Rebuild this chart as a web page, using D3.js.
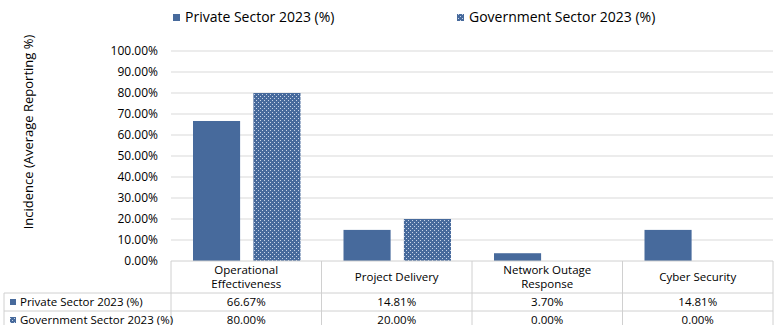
<!DOCTYPE html>
<html>
<head>
<meta charset="utf-8">
<script src="https://cdn.jsdelivr.net/npm/d3@7"></script>
<style>
  body { margin: 0; background: #fff; }
  svg { display: block; }
</style>
</head>
<body>
<div id="chart"></div>
<script>
// Chart data
const categories = [["Operational", "Effectiveness"], ["Project Delivery"], ["Network Outage", "Response"], ["Cyber Security"]];
const seriesNames = ["Private Sector 2023 (%)", "Government Sector 2023 (%)"];
const privateValues = [66.67, 14.81, 3.70, 14.81];
const governmentValues = [80.00, 20.00, 0.00, 0.00];
const yTicks = [0, 10, 20, 30, 40, 50, 60, 70, 80, 90, 100];

const width = 779;
const height = 325;
const blue = "#476a9c";
const gridColor = "#d9d9d9";
const font = "'Open Sans', 'Noto Sans', sans-serif";

const svg = d3.select("#chart")
  .append("svg")
  .attr("width", width)
  .attr("height", height)
  .style("font-family", font);

// Dotted pattern for government bars
const defs = svg.append("defs");
const pat = defs.append("pattern")
  .attr("id", "dots")
  .attr("width", 4)
  .attr("height", 4)
  .attr("patternUnits", "userSpaceOnUse");
pat.append("rect").attr("width", 4).attr("height", 4).attr("fill", blue);
pat.append("rect").attr("x", 0).attr("y", 0).attr("width", 1).attr("height", 1).attr("fill", "#c9d5e8");
pat.append("rect").attr("x", 2).attr("y", 2).attr("width", 1).attr("height", 1).attr("fill", "#c9d5e8");

const plot = { left: 171, right: 773, top: 51, bottom: 261 };

const x = d3.scaleBand()
  .domain(d3.range(categories.length))
  .range([plot.left, plot.right])
  .paddingInner(0)
  .paddingOuter(0);

const xInner = d3.scaleBand()
  .domain([0, 1])
  .range([22, x.bandwidth() - 21])
  .paddingInner(0.22);

const y = d3.scaleLinear()
  .domain([0, 100])
  .range([plot.bottom, plot.top]);

// Gridlines
svg.append("g")
  .selectAll("line")
  .data(yTicks.filter(d => d > 0))
  .join("line")
  .attr("x1", plot.left)
  .attr("x2", plot.right)
  .attr("y1", d => y(d))
  .attr("y2", d => y(d))
  .attr("stroke", gridColor)
  .attr("stroke-width", 1);

// Y axis labels
const yAxis = svg.append("g")
  .attr("transform", `translate(${plot.left},0)`)
  .call(d3.axisLeft(y).tickValues(yTicks).tickSize(0).tickPadding(13).tickFormat(d => d.toFixed(2) + "%"));
yAxis.select(".domain").remove();
yAxis.selectAll("text")
  .style("font-family", font)
  .style("font-size", "12px")
  .attr("fill", "#000");

// Y title
svg.append("text")
  .attr("transform", "translate(33,132) rotate(-90)")
  .attr("text-anchor", "middle")
  .style("font-size", "13px")
  .text("Incidence (Average Reporting %)");

// Bars
const seriesValues = [privateValues, governmentValues];
const fills = [blue, "url(#dots)"];
seriesValues.forEach((vals, s) => {
  svg.append("g")
    .selectAll("rect")
    .data(vals)
    .join("rect")
    .attr("x", (d, i) => x(i) + xInner(s))
    .attr("width", xInner.bandwidth())
    .attr("y", d => y(d))
    .attr("height", d => y(0) - y(d))
    .attr("fill", fills[s]);
});

// Legend
const legendX = [173, 457];
seriesNames.forEach((name, s) => {
  svg.append("rect")
    .attr("x", legendX[s])
    .attr("y", 14)
    .attr("width", 7)
    .attr("height", 7)
    .attr("fill", fills[s]);
  svg.append("text")
    .attr("x", legendX[s] + 12)
    .attr("y", 22)
    .style("font-size", "14px")
    .text(name);
});

// Data table
const rowTops = [plot.bottom, 293, 311, 329];
const tableLeft = 4;
const border = "#d0d0d0";
const tbl = svg.append("g");

// horizontal lines
tbl.append("line").attr("x1", plot.left).attr("x2", plot.right).attr("y1", rowTops[0]).attr("y2", rowTops[0]).attr("stroke", border);
[rowTops[1], rowTops[2], rowTops[3]].forEach(yy => {
  tbl.append("line").attr("x1", tableLeft).attr("x2", plot.right).attr("y1", yy).attr("y2", yy).attr("stroke", border);
});
// vertical lines
d3.range(categories.length + 1).forEach(i => {
  const xx = i < categories.length ? x(i) : plot.right;
  tbl.append("line").attr("x1", xx).attr("x2", xx).attr("y1", rowTops[0]).attr("y2", rowTops[3]).attr("stroke", border);
});
tbl.append("line").attr("x1", tableLeft).attr("x2", tableLeft).attr("y1", rowTops[1]).attr("y2", rowTops[3]).attr("stroke", border);

// header
categories.forEach((lines, i) => {
  const cx = x(i) + x.bandwidth() / 2;
  const mid = (rowTops[0] + rowTops[1]) / 2;
  const t = tbl.append("text")
    .attr("text-anchor", "middle")
    .style("font-size", "11.5px");
  lines.forEach((ln, j) => {
    t.append("tspan")
      .attr("x", cx)
      .attr("y", mid + 4 + (j - (lines.length - 1) / 2) * 13.5)
      .text(ln);
  });
});

// rows
seriesValues.forEach((vals, s) => {
  const top = rowTops[s + 1];
  tbl.append("rect")
    .attr("x", 10)
    .attr("y", top + 6)
    .attr("width", 6)
    .attr("height", 6)
    .attr("fill", fills[s]);
  tbl.append("text")
    .attr("x", 20)
    .attr("y", top + 13)
    .style("font-size", "11.5px")
    .text(seriesNames[s]);
  vals.forEach((v, i) => {
    tbl.append("text")
      .attr("x", x(i) + x.bandwidth() / 2)
      .attr("y", top + 13)
      .attr("text-anchor", "middle")
      .style("font-size", "11.5px")
      .text(v.toFixed(2) + "%");
  });
});
</script>
</body>
</html>
